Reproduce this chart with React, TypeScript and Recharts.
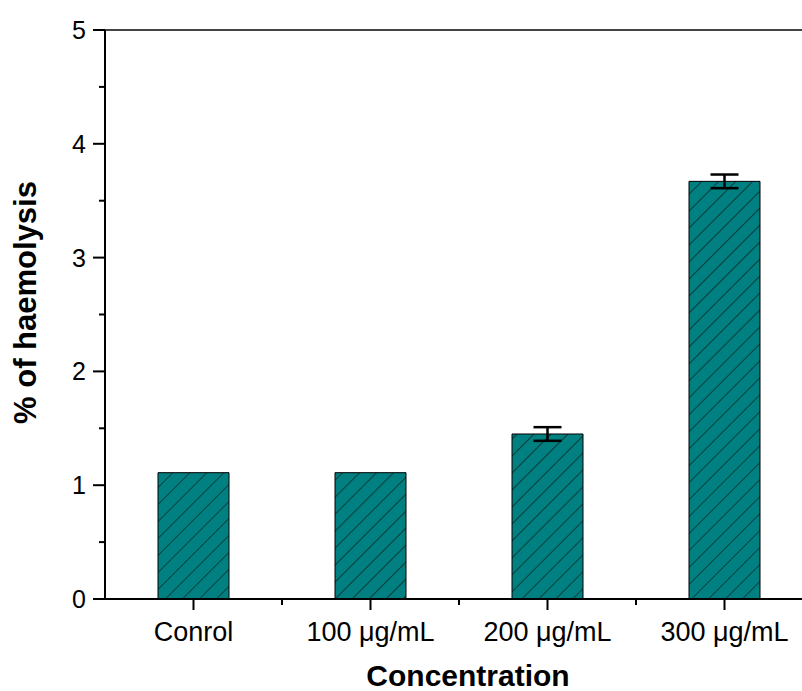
import { Bar, BarChart, ErrorBar, ReferenceLine, XAxis, YAxis } from "recharts";

const categories = ["Conrol", "100 μg/mL", "200 μg/mL", "300 μg/mL"];
const haemolysis = [1.11, 1.11, 1.45, 3.67];
const haemolysisErr: (number | null)[] = [null, null, 0.06, 0.06];
const yTicks = [0, 0.5, 1, 1.5, 2, 2.5, 3, 3.5, 4, 4.5, 5];

const FONT = '"Liberation Sans", Arial, Helvetica, sans-serif';
const TEAL = "#008080";

const data = categories.map((name, i) => ({
  name,
  value: haemolysis[i],
  err: haemolysisErr[i],
}));

function YTick(props: any) {
  const { x, y, payload } = props;
  const major = Number.isInteger(payload.value);
  return (
    <g>
      <line x1={x - (major ? 12 : 6)} x2={x} y1={y} y2={y} stroke="#000" strokeWidth={2} />
      {major && (
        <text x={x - 19} y={y} dy="0.36em" textAnchor="end" fontSize={25} fontFamily={FONT} fill="#000">
          {payload.value}
        </text>
      )}
    </g>
  );
}

function XTick(props: any) {
  const { x, y, payload } = props;
  const off = payload.offset ?? 0;
  return (
    <g>
      <line x1={x} x2={x} y1={y} y2={y + 11} stroke="#000" strokeWidth={2} />
      {off > 0 && <line x1={x + off} x2={x + off} y1={y} y2={y + 6} stroke="#000" strokeWidth={2} />}
      <text x={x} y={y + 42} textAnchor="middle" fontSize={27} fontFamily={FONT} fill="#000">
        {payload.value}
      </text>
    </g>
  );
}

export default function App() {
  return (
    <div style={{ position: "absolute", left: 0, top: 0, width: 802, height: 691, overflow: "hidden", background: "#fff" }}>
      <BarChart width={830} height={691} data={data} margin={{ top: 30, right: 17, left: 0, bottom: 0 }}>
        <defs>
          <pattern id="hatch" patternUnits="userSpaceOnUse" width={12} height={12} patternTransform="rotate(45)">
            <rect width={12} height={12} fill={TEAL} />
            <line x1={0} y1={0} x2={0} y2={12} stroke="#111" strokeWidth={1.2} />
          </pattern>
        </defs>
        <XAxis
          dataKey="name"
          height={92}
          tickSize={0}
          tickMargin={0}
          tick={<XTick />}
          axisLine={{ stroke: "#000", strokeWidth: 2 }}
          interval={0}
          label={{
            content: ({ viewBox }: any) => (
              <text
                x={viewBox.x + viewBox.width / 2 + 9}
                y={viewBox.y + 87}
                textAnchor="middle"
                fontSize={30}
                fontWeight="bold"
                fontFamily={FONT}
                fill="#000"
              >
                Concentration
              </text>
            ),
          }}
        />
        <YAxis
          width={105}
          domain={[0, 5]}
          ticks={yTicks}
          interval={0}
          tickSize={0}
          tickMargin={0}
          tick={<YTick />}
          axisLine={{ stroke: "#000", strokeWidth: 2 }}
          label={{
            content: ({ viewBox }: any) => {
              const cx = viewBox.x + 25;
              const cy = viewBox.y + viewBox.height / 2 - 12;
              return (
                <text
                  x={cx}
                  y={cy}
                  transform={`rotate(-90 ${cx} ${cy})`}
                  dy="0.36em"
                  textAnchor="middle"
                  fontSize={31}
                  fontWeight="bold"
                  fontFamily={FONT}
                  fill="#000"
                >
                  % of haemolysis
                </text>
              );
            },
          }}
        />
        <ReferenceLine y={5} stroke="#444" strokeWidth={2} />
        <Bar dataKey="value" fill="url(#hatch)" stroke="#000" strokeWidth={1} barSize={71} isAnimationActive={false}>
          <ErrorBar dataKey="err" width={14} stroke="#000" strokeWidth={2.5} direction="y" />
        </Bar>
      </BarChart>
    </div>
  );
}
